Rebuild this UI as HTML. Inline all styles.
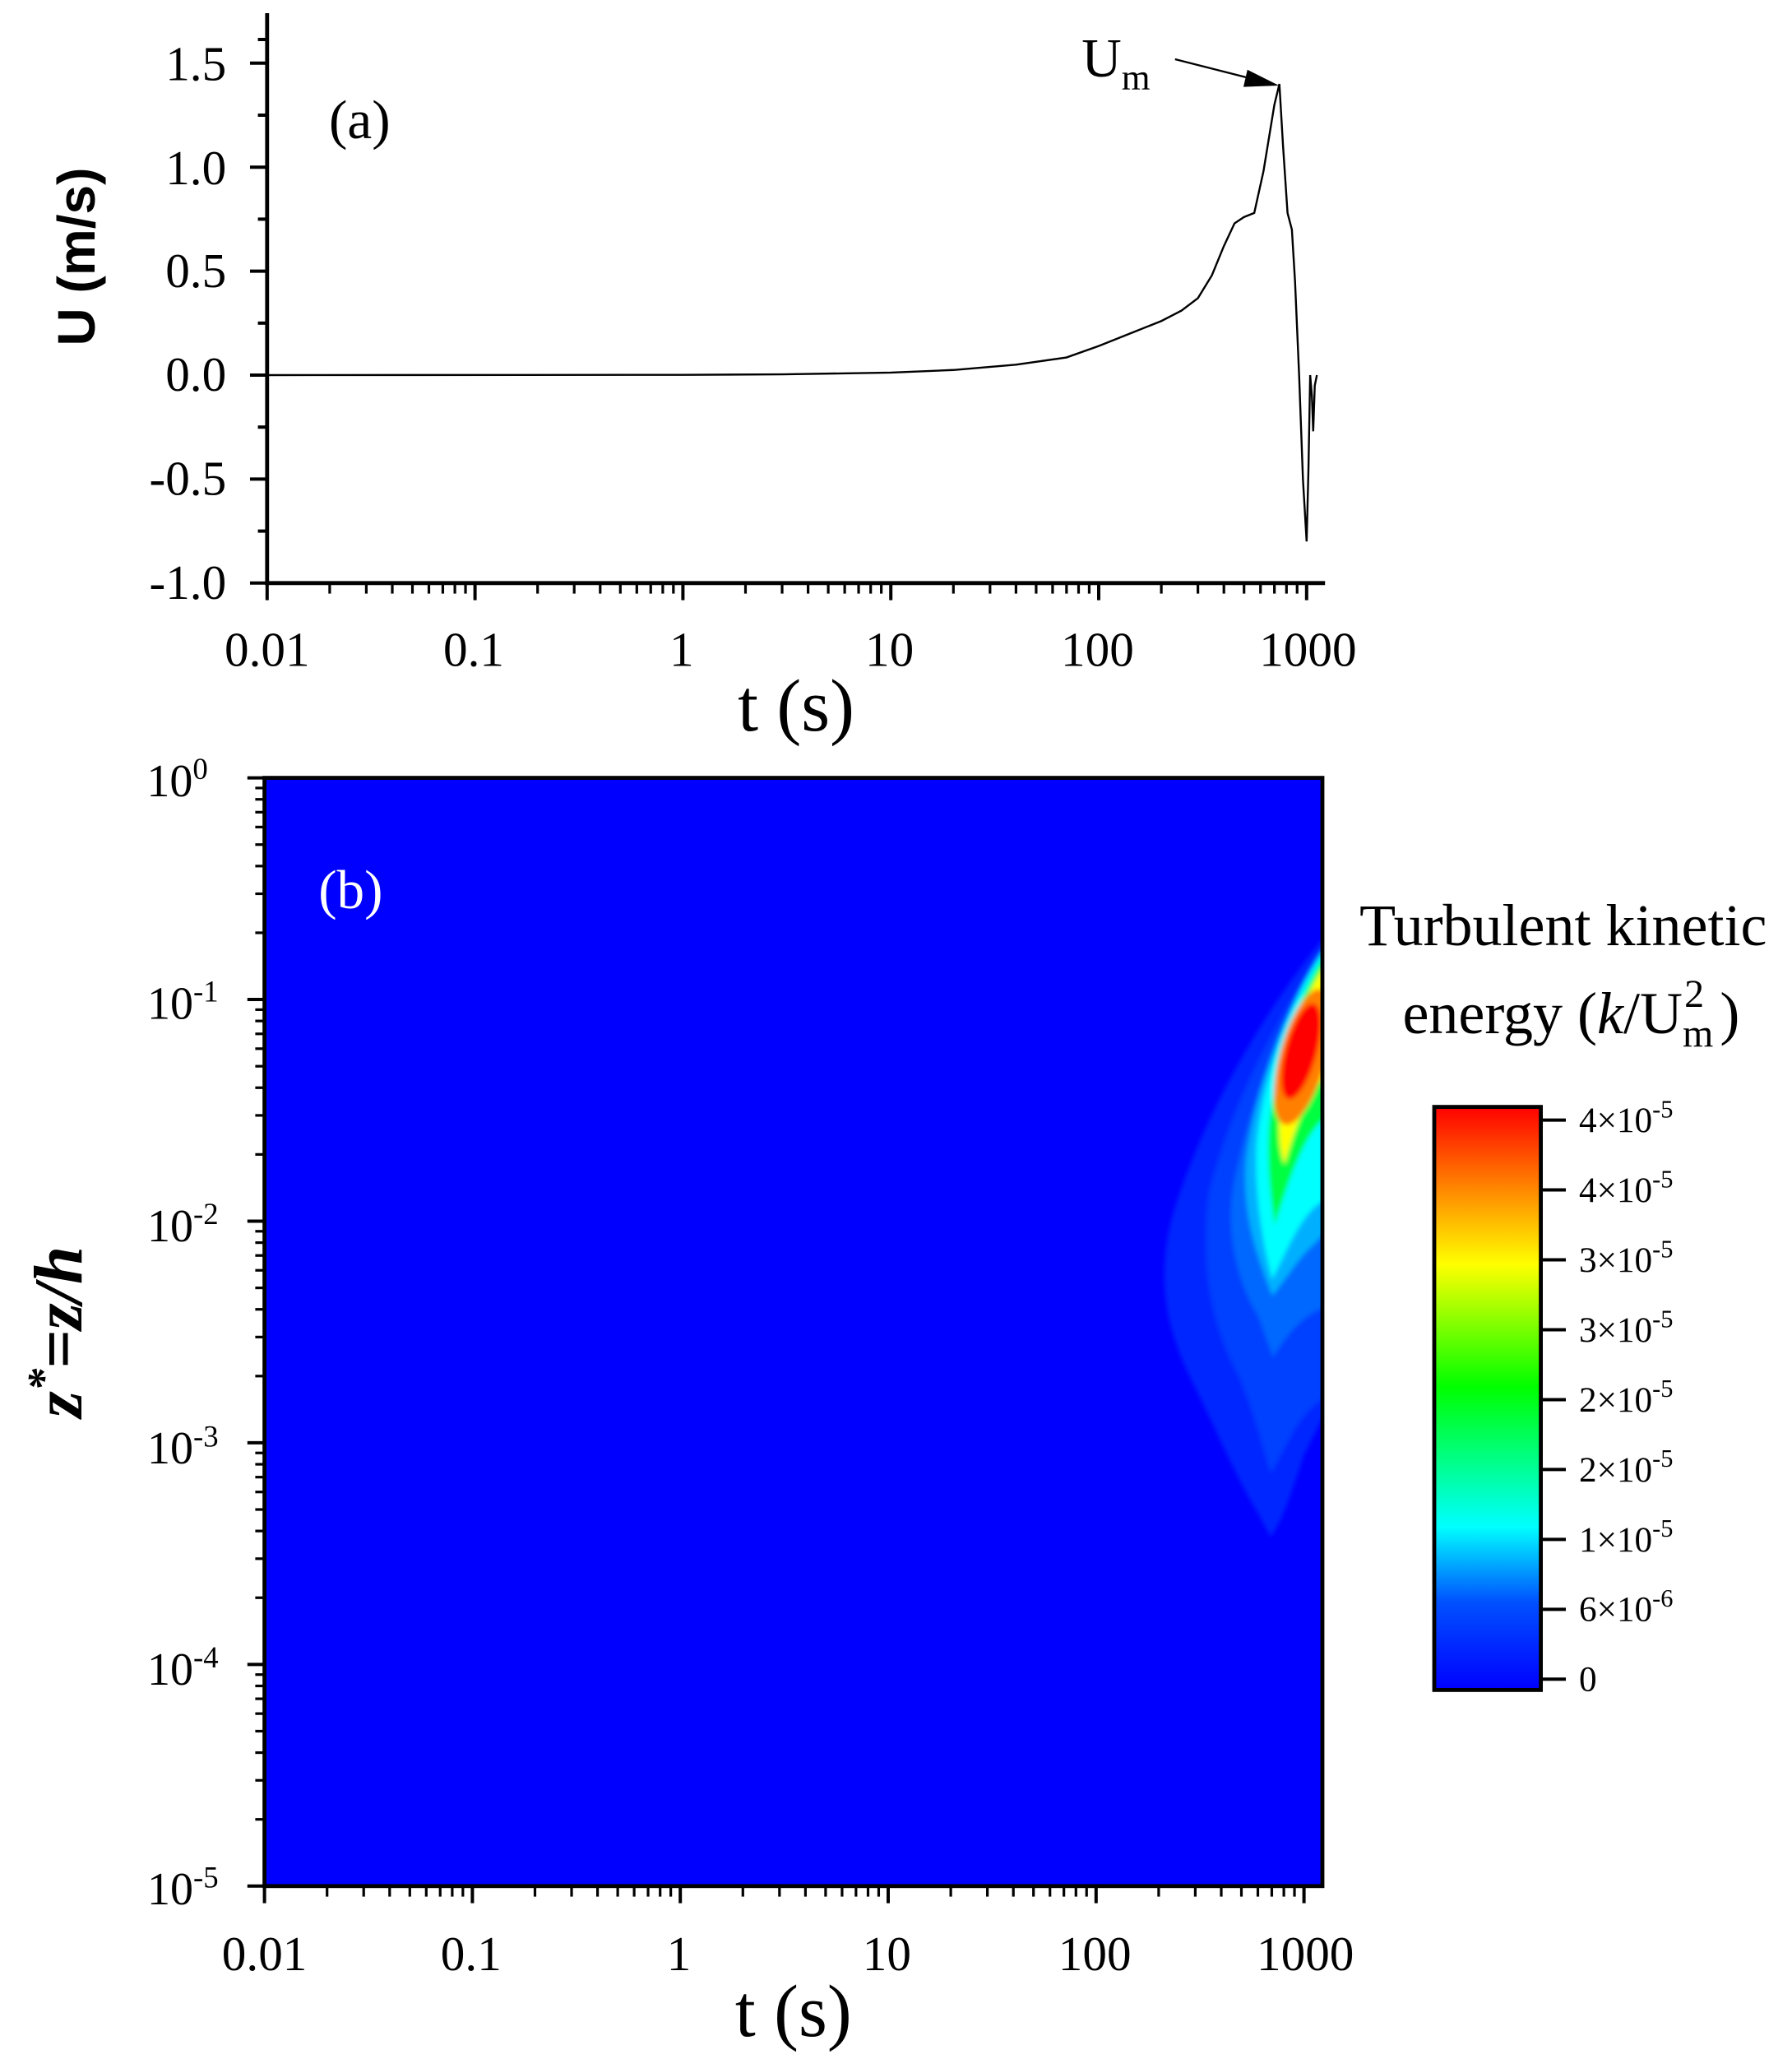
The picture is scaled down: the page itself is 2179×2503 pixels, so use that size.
<!DOCTYPE html>
<html><head><meta charset="utf-8">
<style>
html,body{margin:0;padding:0;background:#fff;}
svg{display:block;}
text{font-family:"Liberation Serif",serif;}
</style></head>
<body>
<svg id="s" width="2179" height="2503" viewBox="0 0 1361.875 1564.375" xmlns="http://www.w3.org/2000/svg">
<defs>
<linearGradient id="cb" x1="0" y1="1" x2="0" y2="0">
<stop offset="0" stop-color="#0000ff"/>
<stop offset="0.15" stop-color="#0050ff"/>
<stop offset="0.28" stop-color="#00ffff"/>
<stop offset="0.40" stop-color="#00ff80"/>
<stop offset="0.52" stop-color="#00ff00"/>
<stop offset="0.73" stop-color="#ffff00"/>
<stop offset="0.85" stop-color="#ff9000"/>
<stop offset="1" stop-color="#ff0000"/>
</linearGradient>
<clipPath id="fr"><rect x="201" y="591" width="804" height="842"/></clipPath>
<filter id="bl" x="-20%" y="-20%" width="140%" height="140%"><feGaussianBlur stdDeviation="3"/></filter>
</defs>

<rect x="201" y="591" width="804" height="842" fill="#0000ff"/>
<g clip-path="url(#fr)">
<g transform="scale(0.625)" filter="url(#bl)">
<path fill="#0028ff" d="M1610,1140 C1560,1200 1470,1330 1425,1480 C1405,1560 1420,1620 1450,1680 C1480,1740 1500,1790 1530,1840 L1545,1868 C1560,1850 1575,1800 1585,1770 L1610,1720 Z"/>
<path fill="#0040ff" d="M1610,1150 C1560,1230 1500,1330 1470,1450 C1460,1530 1470,1600 1500,1660 C1520,1700 1530,1740 1545,1790 C1560,1770 1575,1720 1610,1700 Z"/>
<path fill="#0068ff" d="M1610,1155 C1560,1240 1520,1340 1500,1440 C1490,1500 1505,1560 1530,1600 L1548,1650 C1560,1630 1580,1600 1610,1590 Z"/>
<path fill="#00b0ff" d="M1610,1155 C1560,1230 1525,1330 1515,1410 C1510,1480 1530,1530 1547,1575 C1560,1560 1575,1535 1590,1520 L1610,1500 Z"/>
<path fill="#00ffff" d="M1610,1155 C1565,1220 1535,1320 1528,1390 C1525,1450 1535,1510 1547,1555 C1565,1520 1585,1470 1610,1460 Z"/>
<path fill="#00ff40" d="M1610,1162 C1575,1220 1550,1300 1543,1370 C1540,1420 1546,1460 1550,1490 C1565,1440 1585,1380 1610,1360 Z"/>
<path fill="#ffff00" d="M1610,1175 C1580,1220 1560,1290 1556,1350 C1554,1385 1558,1405 1562,1415 C1575,1370 1590,1330 1610,1310 Z"/>
<ellipse fill="#ff8000" cx="1584" cy="1285" rx="28" ry="85" transform="rotate(15 1584 1285)"/>
<ellipse fill="#ff0000" cx="1582" cy="1278" rx="19" ry="60" transform="rotate(15 1582 1278)"/>
</g>
</g>
<rect x="201" y="591" width="804" height="842" fill="none" stroke="#000" stroke-width="3"/>
<text x="242" y="690" font-size="42" fill="#fff">(b)</text>

<line x1="203" y1="10" x2="203" y2="444.5" stroke="#000" stroke-width="3"/>
<line x1="201.5" y1="443" x2="1007" y2="443" stroke="#000" stroke-width="3"/>
<text x="250" y="105" font-size="42">(a)</text>
<text x="822" y="58" font-size="42">U<tspan font-size="28" dy="10">m</tspan></text>
<line x1="893" y1="45" x2="952" y2="60" stroke="#000" stroke-width="1.5"/>
<polygon points="972,65 948,53 945,66" fill="#000"/>
<path id="curve" fill="none" stroke="#000" stroke-width="1.5" d=""/>

<g id="ticks"></g>

<g font-size="37" text-anchor="end">
<text x="172" y="61">1.5</text>
<text x="172" y="140">1.0</text>
<text x="172" y="218">0.5</text>
<text x="172" y="297">0.0</text>
<text x="172" y="376">-0.5</text>
<text x="172" y="455">-1.0</text>
</g>
<g font-size="37" text-anchor="middle">
<text x="203" y="506">0.01</text>
<text x="360" y="506">0.1</text>
<text x="518" y="506">1</text>
<text x="676" y="506">10</text>
<text x="834" y="506">100</text>
<text x="994" y="506">1000</text>
</g>
<text x="605" y="555" font-size="56" text-anchor="middle">t (s)</text>
<text transform="translate(72,195) rotate(-90)" font-size="40" font-weight="bold" text-anchor="middle" style="font-family:'Liberation Sans',sans-serif">U (m/s)</text>

<g font-size="37" text-anchor="middle">
<text x="201" y="1497">0.01</text>
<text x="358" y="1497">0.1</text>
<text x="516" y="1497">1</text>
<text x="674" y="1497">10</text>
<text x="832" y="1497">100</text>
<text x="992" y="1497">1000</text>
</g>
<text x="603" y="1547" font-size="56" text-anchor="middle">t (s)</text>
<g font-size="35" text-anchor="end">
<text x="158" y="605">10<tspan font-size="23" dy="-13">0</tspan></text>
<text x="166" y="774">10<tspan font-size="23" dy="-13">-1</tspan></text>
<text x="166" y="943">10<tspan font-size="23" dy="-13">-2</tspan></text>
<text x="166" y="1112">10<tspan font-size="23" dy="-13">-3</tspan></text>
<text x="166" y="1280">10<tspan font-size="23" dy="-13">-4</tspan></text>
<text x="166" y="1447">10<tspan font-size="23" dy="-13">-5</tspan></text>
</g>
<text transform="translate(62,1012) rotate(-90)" font-size="52" font-weight="bold" font-style="italic" text-anchor="middle">z<tspan font-size="34" dy="-18">*</tspan><tspan dy="18">=z/h</tspan></text>

<text x="1188" y="718" font-size="45" text-anchor="middle">Turbulent kinetic</text>
<text x="1194" y="785" font-size="45" text-anchor="middle">energy (<tspan font-style="italic">k</tspan>/U<tspan font-size="30" dy="10">m</tspan><tspan font-size="30" dx="-22" dy="-30">2</tspan><tspan dx="12" dy="20">)</tspan></text>
<rect x="1090" y="841" width="81" height="443" fill="url(#cb)" stroke="#000" stroke-width="3"/>
<g id="cbt" font-size="27"></g>
</svg>
<script>
var NS="http://www.w3.org/2000/svg";
function el(p,n,a,t){var e=document.createElementNS(NS,n);for(var k in a)e.setAttribute(k,a[k]);if(t!=null)e.textContent=t;p.appendChild(e);return e;}
var g=document.getElementById("ticks");
function ln(x1,y1,x2,y2,w){el(g,"line",{x1:x1,y1:y1,x2:x2,y2:y2,stroke:"#000","stroke-width":w||2});}
[[203,443],[201,1433]].forEach(function(p){
 for(var d=0;d<5;d++){ for(var k=1;k<10;k++){ var x=p[0]+(d+Math.log10(k))*158; if(k==1)ln(x,p[1],x,p[1]+13,2.5); else ln(x,p[1],x,p[1]+8,2);} }
 ln(p[0]+5*158,p[1],p[0]+5*158,p[1]+13,2.5);
});
for(var i=0;i<=10;i++){var y=443-i*39.5; if(y<12)continue; ln(203,y,i%2==0?190:196,y,2.5);}
ln(203,30,196,30,2.5);
for(var d=0;d<5;d++){for(var k=1;k<10;k++){var y=1433-(d+Math.log10(k))*168.4; ln(201,y,k==1?188:194,y,k==1?2.5:2);}}
ln(201,591,188,591,2.5);
var cb=document.getElementById("cbt");
var labs=[["4×10","-5"],["4×10","-5"],["3×10","-5"],["3×10","-5"],["2×10","-5"],["2×10","-5"],["1×10","-5"],["6×10","-6"],["0",""]];
labs.forEach(function(l,i){var y=851+i*53.1; ln(1171,y,1190,y,2.5);
 var t=el(cb,"text",{x:1200,y:y+9},l[0]); if(l[1]){el(t,"tspan",{"font-size":"19",dy:"-11"},l[1]);}});
function X(t){return 203+(Math.log10(t)+2)*158;}
function Y(u){return 285-u*158;}
var pts=[[0.01,0],[1,0.001],[3,0.004],[10,0.012],[20,0.025],[40,0.05],[70,0.085],[100,0.14],[150,0.21],[200,0.26],[250,0.31],[300,0.37],[350,0.48],[400,0.62],[450,0.73],[500,0.76],[560,0.78],[620,0.98],[700,1.3],[740,1.4],[770,1.1],[810,0.78],[850,0.7],[880,0.45],[920,0.0],[960,-0.5],[1000,-0.8],[1020,-0.45],[1040,0.0],[1060,-0.1],[1075,-0.27],[1095,-0.05],[1120,0.0]];
document.getElementById("curve").setAttribute("d","M"+pts.map(function(p){return X(p[0]).toFixed(1)+","+Y(p[1]).toFixed(1);}).join(" L"));
</script>
</body></html>
